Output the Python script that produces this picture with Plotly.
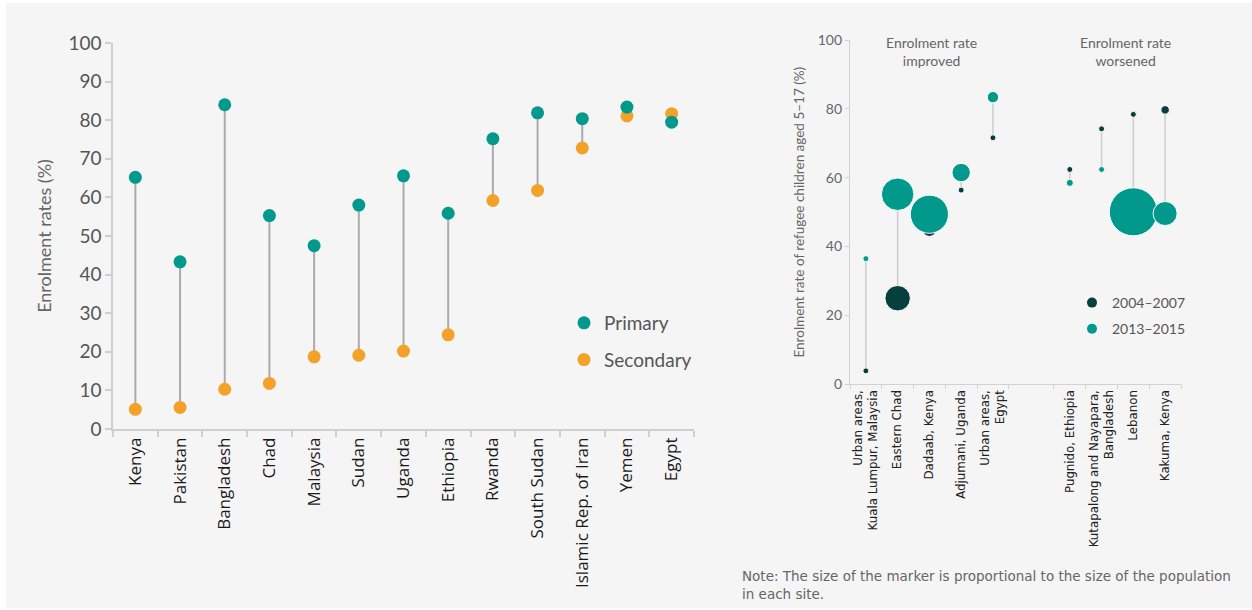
import plotly.graph_objects as go

# ---------------- data ----------------
countries = ["Kenya", "Pakistan", "Bangladesh", "Chad", "Malaysia", "Sudan", "Uganda",
             "Ethiopia", "Rwanda", "South Sudan", "Islamic Rep. of Iran", "Yemen", "Egypt"]
primary = [65.2, 43.3, 84.0, 55.3, 47.5, 58.0, 65.6, 55.9, 75.2, 81.9, 80.4, 83.4, 79.5]
secondary = [5.1, 5.6, 10.3, 11.8, 18.7, 19.1, 20.2, 24.4, 59.2, 61.8, 72.8, 81.1, 81.7]

sites_improved = ["Urban areas,<br>Kuala Lumpur, Malaysia", "Eastern Chad", "Dadaab, Kenya",
                  "Adjumani, Uganda", "Urban areas,<br>Egypt"]
sites_worsened = ["Pugnido, Ethiopia", "Kutapalong and Nayapara,<br>Bangladesh", "Lebanon",
                  "Kakuma, Kenya"]
rate_2004_2007 = [3.9, 25.0, 45.0, 56.4, 71.6, 62.4, 74.2, 78.4, 79.7]
rate_2013_2015 = [36.5, 55.2, 49.4, 61.5, 83.4, 58.5, 62.4, 50.1, 49.6]
# relative refugee population of each site (estimated, arbitrary units)
pop_2004_2007 = [16, 324, 100, 12, 12, 16, 12, 12, 36]
pop_2013_2015 = [16, 529, 729, 169, 64, 25, 12, 1156, 289]

# ---------------- styles ----------------
TEAL = "#00998b"
ORANGE = "#f4a12a"
DARK = "#073f3f"
COND = "Lato, Roboto, sans-serif"
WIDE = "DejaVu Sans, Verdana, sans-serif"
SANS = "Open Sans, Noto Sans, sans-serif"
W, H = 1252, 610

def px(xp):
    return xp / W

def py(yp):
    return 1 - yp / H

fig = go.Figure()

# ---------------- left chart ----------------
lx, ly = [], []
for c, p, s in zip(countries, primary, secondary):
    lx += [c, c, None]
    ly += [p, s, None]
fig.add_trace(go.Scatter(x=lx, y=ly, mode="lines", line=dict(color="#ababab", width=2),
                         showlegend=False, hoverinfo="skip", xaxis="x", yaxis="y"))
fig.add_trace(go.Scatter(x=countries, y=secondary, mode="markers", name="Secondary",
                         marker=dict(color=ORANGE, size=13, opacity=1), showlegend=False,
                         xaxis="x", yaxis="y"))
fig.add_trace(go.Scatter(x=countries, y=primary, mode="markers", name="Primary",
                         marker=dict(color=TEAL, size=13, opacity=1), showlegend=False,
                         xaxis="x", yaxis="y"))
# legend entries (left)
for nm, col in [("Primary", TEAL), ("Secondary", ORANGE)]:
    fig.add_trace(go.Scatter(x=[None], y=[None], mode="markers", name=nm,
                             marker=dict(color=col, size=13), legend="legend",
                             legendgroup=nm, xaxis="x", yaxis="y"))

# ---------------- right chart ----------------
gap = 1.42
n_imp, n_wor = len(sites_improved), len(sites_worsened)
xpos = [i + 0.5 for i in range(n_imp)] + [n_imp + gap + i + 0.5 for i in range(n_wor)]
bounds = list(range(n_imp + 1)) + [n_imp + gap + j for j in range(n_wor + 1)]
site_labels = sites_improved + sites_worsened

rx, ry = [], []
for xv, a, b in zip(xpos, rate_2004_2007, rate_2013_2015):
    rx += [xv, xv, None]
    ry += [a, b, None]
fig.add_trace(go.Scatter(x=rx, y=ry, mode="lines", line=dict(color="#cfcfcf", width=1.6),
                         showlegend=False, hoverinfo="skip", xaxis="x2", yaxis="y2"))
fig.add_trace(go.Scatter(x=xpos, y=rate_2004_2007, mode="markers", name="2004–2007",
                         marker=dict(color=DARK, size=pop_2004_2007, sizemode="area",
                                     sizeref=1, sizemin=3, opacity=1),
                         showlegend=False, xaxis="x2", yaxis="y2"))
fig.add_trace(go.Scatter(x=xpos, y=rate_2013_2015, mode="markers", name="2013–2015",
                         marker=dict(color=TEAL, size=pop_2013_2015, sizemode="area",
                                     sizeref=1, sizemin=3, opacity=1),
                         showlegend=False, xaxis="x2", yaxis="y2"))
# invisible trace to carry the boundary-tick axis
fig.add_trace(go.Scatter(x=[None], y=[None], mode="markers", showlegend=False,
                         hoverinfo="skip", xaxis="x3", yaxis="y2"))
for nm, col in [("2004–2007", DARK), ("2013–2015", TEAL)]:
    fig.add_trace(go.Scatter(x=[None], y=[None], mode="markers", name=nm,
                             marker=dict(color=col, size=10), legend="legend2",
                             legendgroup=nm, xaxis="x2", yaxis="y2"))

xr_end = n_imp + gap + n_wor

fig.update_layout(
    width=W, height=H,
    margin=dict(l=0, r=0, t=0, b=0),
    paper_bgcolor="white",
    plot_bgcolor="rgba(0,0,0,0)",
    shapes=[dict(type="rect", xref="paper", yref="paper", x0=px(6), x1=1, y0=py(608), y1=py(3),
                 fillcolor="#f5f5f5", line=dict(width=0), layer="below")],
    xaxis=dict(domain=[px(113), px(694)], type="category", categoryorder="array",
               categoryarray=countries, tickson="boundaries", ticks="outside", ticklen=6,
               tickcolor="#cfcfcf", tickwidth=1.5, showline=True, linecolor="#cfcfcf",
               linewidth=1.5, showgrid=False, tickangle=-90, range=[-0.5, 12.5],
               automargin=False,
               tickfont=dict(family=SANS, size=17, color="#1a1a1a"), anchor="y", zeroline=False),
    yaxis=dict(domain=[py(429), py(43)], range=[0, 100], dtick=10, ticks="outside", ticklen=6,
               tickcolor="#cfcfcf", tickwidth=1.5, showline=True, linecolor="#cfcfcf",
               linewidth=1.5, showgrid=False, zeroline=False, anchor="x", automargin=False,
               tickfont=dict(family=COND, size=19, color="#555555"),
               title=dict(text="Enrolment rates (%)", standoff=12,
                          font=dict(family=COND, size=18, color="#666666"))),
    xaxis2=dict(domain=[px(850), px(1181)], range=[0, xr_end], tickmode="array", tickvals=xpos,
                ticktext=site_labels, ticks="", showline=True, linecolor="#d2d2d2", linewidth=1.2,
                showgrid=False, zeroline=False, tickangle=-90, anchor="y2", automargin=False,
                tickfont=dict(family=WIDE, size=11.8, color="#222222")),
    xaxis3=dict(domain=[px(850), px(1181)], range=[0, xr_end], tickmode="array", tickvals=bounds,
                ticks="outside", ticklen=4, tickcolor="#d2d2d2", tickwidth=1.2,
                showticklabels=False, showline=False, showgrid=False, zeroline=False,
                overlaying="x2", anchor="y2", side="bottom", automargin=False),
    yaxis2=dict(domain=[py(384.3), py(40)], range=[0, 100], dtick=20, ticks="outside", ticklen=4,
                tickcolor="#d2d2d2", tickwidth=1.2, showline=True, linecolor="#d2d2d2",
                linewidth=1.2, showgrid=False, zeroline=False, anchor="x2", automargin=False,
                tickfont=dict(family=COND, size=14, color="#666666"),
                title=dict(text="Enrolment rate of refugee children aged 5–17 (%)", standoff=9,
                           font=dict(family=COND, size=13.5, color="#666666"))),
    legend=dict(x=px(564), y=py(304), xanchor="left", yanchor="top", bgcolor="rgba(0,0,0,0)",
                traceorder="grouped", tracegroupgap=9, itemwidth=30,
                font=dict(family=COND, size=19, color="#555555")),
    legend2=dict(x=px(1072), y=py(287), xanchor="left", yanchor="top", bgcolor="rgba(0,0,0,0)",
                 traceorder="grouped", tracegroupgap=5, itemwidth=30,
                 font=dict(family=COND, size=14, color="#555555")),
    annotations=[
        dict(text="Enrolment rate<br>improved", x=px(931.7), y=py(32), xref="paper", yref="paper",
             xanchor="center", yanchor="top", showarrow=False, align="center",
             font=dict(family=COND, size=14, color="#666666")),
        dict(text="Enrolment rate<br>worsened", x=px(1125.7), y=py(32), xref="paper", yref="paper",
             xanchor="center", yanchor="top", showarrow=False, align="center",
             font=dict(family=COND, size=14, color="#666666")),
        dict(text="Note: The size of the marker is proportional to the size of the population<br>in each site.",
             x=px(740), y=py(566), xref="paper", yref="paper", xanchor="left", yanchor="top",
             showarrow=False, align="left",
             font=dict(family=WIDE, size=13.5, color="#666666")),
    ],
)

fig.write_html("out.html", config={"displayModeBar": False},
               post_script="document.body.style.margin='0';document.body.style.overflow='hidden';")
